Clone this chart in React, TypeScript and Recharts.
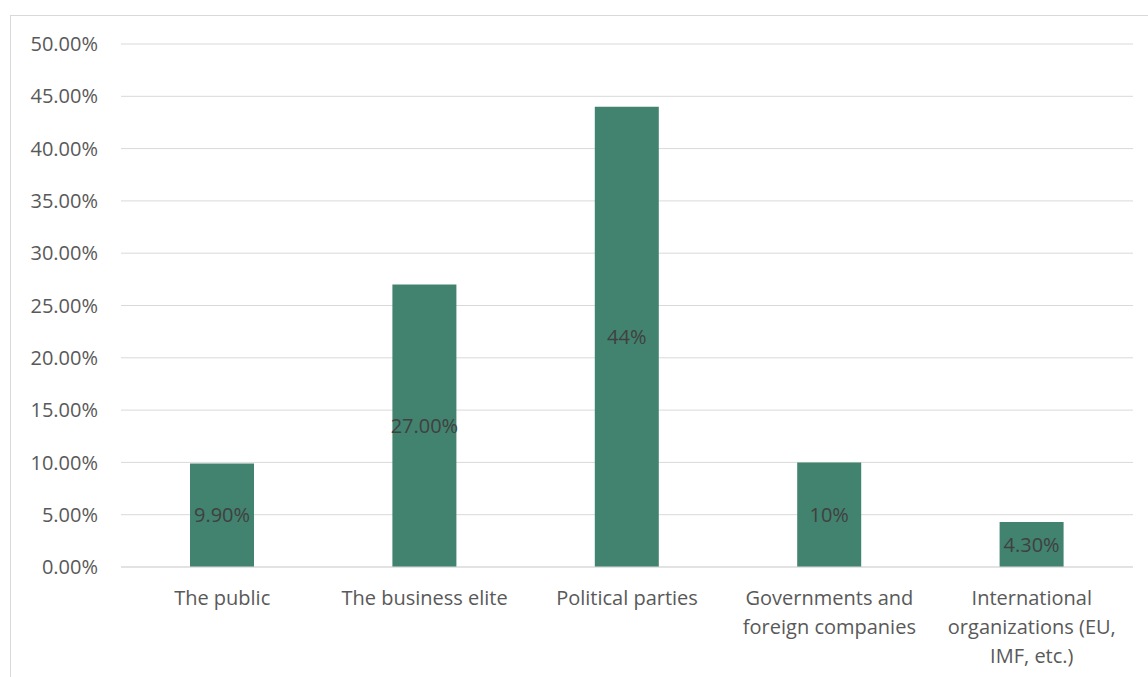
import { BarChart, Bar, XAxis, YAxis, CartesianGrid, LabelList } from "recharts";

const categories = [
  "The public",
  "The business elite",
  "Political parties",
  "Governments and foreign companies",
  "International organizations (EU, IMF, etc.)",
];
const tickLines = [
  ["The public"],
  ["The business elite"],
  ["Political parties"],
  ["Governments and", "foreign companies"],
  ["International", "organizations (EU,", "IMF, etc.)"],
];
const shares = [0.099, 0.27, 0.44, 0.1, 0.043];
const barLabels = ["9.90%", "27.00%", "44%", "10%", "4.30%"];
const yTicks = [0, 0.05, 0.1, 0.15, 0.2, 0.25, 0.3, 0.35, 0.4, 0.45, 0.5];

const data = categories.map((name, i) => ({
  name,
  value: shares[i],
  label: barLabels[i],
  lines: tickLines[i],
}));

const FONT = "'Open Sans', 'Noto Sans', sans-serif";

function CategoryTick({ x, y, index }: any) {
  const lines = tickLines[index] ?? [];
  return (
    <text x={x} y={y} textAnchor="middle" fill="#595959" fontSize={20} fontFamily={FONT}>
      {lines.map((line, i) => (
        <tspan key={i} x={x} dy={i === 0 ? 38 : 29}>
          {line}
        </tspan>
      ))}
    </text>
  );
}

export default function App() {
  return (
    <div
      style={{
        position: "absolute",
        left: 0,
        top: 0,
        width: 1148,
        height: 677,
        background: "#fff",
        overflow: "hidden",
      }}
    >
      {/* chart area frame, only its top and left edges are in view */}
      <div
        style={{
          position: "absolute",
          left: 10,
          top: 15,
          width: 1200,
          height: 700,
          borderLeft: "1px solid #d9d9d9",
          borderTop: "1px solid #d9d9d9",
        }}
      />
      <div style={{ position: "absolute", left: 0, top: 0 }}>
        <BarChart
          width={1148}
          height={677}
          data={data}
          margin={{ top: 44, right: 15, bottom: 0, left: 0 }}
        >
          <CartesianGrid vertical={false} stroke="#d9d9d9" strokeWidth={1} />
          <XAxis
            dataKey="name"
            height={110}
            axisLine={{ stroke: "#d9d9d9" }}
            tickLine={false}
            tickSize={0}
            tickMargin={0}
            interval={0}
            tick={<CategoryTick />}
          />
          <YAxis
            width={121}
            domain={[0, 0.5]}
            ticks={yTicks}
            axisLine={false}
            tickLine={false}
            tickSize={0}
            tickMargin={23}
            tick={{ fill: "#595959", fontSize: 20, fontFamily: FONT }}
            tickFormatter={(v: number) => (v * 100).toFixed(2) + "%"}
          />
          <Bar dataKey="value" fill="#42836f" barSize={64} isAnimationActive={false}>
            <LabelList
              dataKey="label"
              position="center"
              fill="#404040"
              fontSize={20}
              fontFamily={FONT}
            />
          </Bar>
        </BarChart>
      </div>
    </div>
  );
}
